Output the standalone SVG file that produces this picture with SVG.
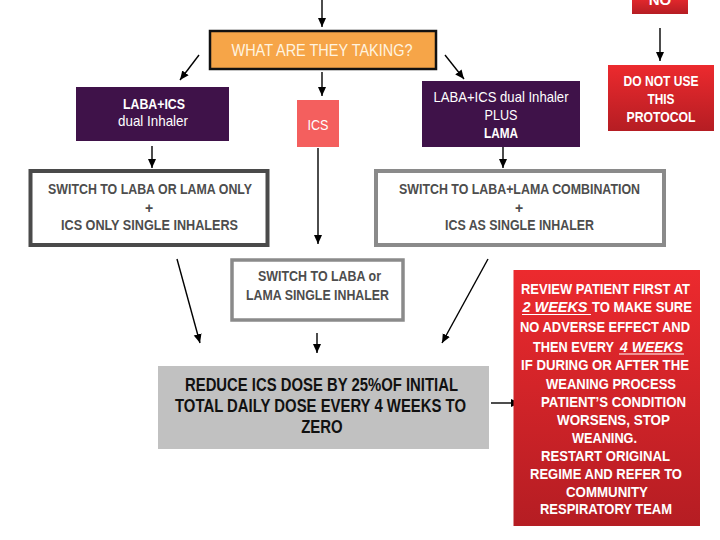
<svg xmlns="http://www.w3.org/2000/svg" width="720" height="540" viewBox="0 0 720 540">
<defs>
<linearGradient id="red" x1="0" y1="0" x2="0" y2="1">
<stop offset="0" stop-color="#EC2A2E"/>
<stop offset="1" stop-color="#B51D23"/>
</linearGradient>
<marker id="ah" markerWidth="10" markerHeight="10" refX="9" refY="5" orient="auto" markerUnits="userSpaceOnUse">
<path d="M0,1 L9,5 L0,9 Z" fill="#000"/>
</marker>
<style>
text{font-family:"Liberation Sans",Arial,sans-serif;text-anchor:middle}
.w{fill:#fff}
.b{font-weight:bold}
.sw{fill:#4d4d4d;font-weight:bold;font-size:14px}
.rd{fill:#fff;font-weight:bold;font-size:15px}
.c{stroke:#000;stroke-width:1.4;fill:none;marker-end:url(#ah)}
</style>
</defs>
<rect width="720" height="540" fill="#fff"/>

<g id="connectors">
<line class="c" x1="322" y1="0" x2="322" y2="27"/>
<line class="c" x1="199" y1="55" x2="180" y2="80"/>
<line class="c" x1="322" y1="72" x2="322" y2="96"/>
<line class="c" x1="445" y1="55" x2="464" y2="79"/>
<line class="c" x1="660" y1="28" x2="660" y2="61" stroke-width="2"/>
<line class="c" x1="152" y1="146" x2="152" y2="168"/>
<line class="c" x1="318" y1="148" x2="318" y2="244"/>
<line class="c" x1="503" y1="147" x2="503" y2="168"/>
<line class="c" x1="177" y1="259" x2="200" y2="343"/>
<line class="c" x1="488" y1="259" x2="442" y2="343"/>
<line class="c" x1="317" y1="333" x2="317" y2="353"/>
<line class="c" x1="491" y1="403" x2="520" y2="403" stroke-width="2"/>
</g>

<g id="no">
<rect x="632" y="-4" width="56" height="18" fill="url(#red)"/>
<text class="w b" x="660" y="5" font-size="15">NO</text>
</g>

<g id="what">
<rect x="210" y="31" width="226" height="38" fill="#F6A548" stroke="#111" stroke-width="2.5"/>
<text x="322" y="56" font-size="17" fill="#FFF4E0" textLength="181" lengthAdjust="spacingAndGlyphs">WHAT ARE THEY TAKING?</text>
</g>

<g id="laba-ics">
<rect x="76" y="87" width="153" height="54" fill="#3F1249"/>
<text class="w b" x="154" y="109" font-size="15" textLength="62" lengthAdjust="spacingAndGlyphs">LABA+ICS</text>
<text class="w" x="153" y="126" font-size="15" textLength="70" lengthAdjust="spacingAndGlyphs">dual Inhaler</text>
</g>

<g id="ics">
<rect x="297" y="100" width="42" height="47" fill="#F45F5E"/>
<text class="w" x="318" y="130" font-size="15" textLength="21" lengthAdjust="spacingAndGlyphs">ICS</text>
</g>

<g id="laba-ics-lama">
<rect x="422" y="81" width="158" height="66" fill="#3F1249"/>
<text class="w" x="501" y="102" font-size="15" textLength="135" lengthAdjust="spacingAndGlyphs">LABA+ICS dual Inhaler</text>
<text class="w" x="501" y="120" font-size="15" textLength="33" lengthAdjust="spacingAndGlyphs">PLUS</text>
<text class="w b" x="501" y="138" font-size="15" textLength="34" lengthAdjust="spacingAndGlyphs">LAMA</text>
</g>

<g id="do-not-use">
<rect x="608" y="65" width="106" height="66" fill="url(#red)"/>
<text class="w b" x="661" y="86" font-size="15" textLength="75" lengthAdjust="spacingAndGlyphs">DO NOT USE</text>
<text class="w b" x="661" y="104" font-size="15" textLength="27" lengthAdjust="spacingAndGlyphs">THIS</text>
<text class="w b" x="661" y="122" font-size="15" textLength="69" lengthAdjust="spacingAndGlyphs">PROTOCOL</text>
</g>

<g id="switch-left">
<rect x="30.5" y="171" width="237" height="74" fill="#fff" stroke="#4A4A4A" stroke-width="4"/>
<text class="sw" x="150" y="194" textLength="204" lengthAdjust="spacingAndGlyphs">SWITCH TO LABA OR LAMA ONLY</text>
<text class="sw" x="149" y="213">+</text>
<text class="sw" x="149.5" y="230" textLength="177" lengthAdjust="spacingAndGlyphs">ICS ONLY  SINGLE INHALERS</text>
</g>

<g id="switch-right">
<rect x="376" y="171" width="288" height="74" fill="#fff" stroke="#8A8A8A" stroke-width="4"/>
<text class="sw" x="519.5" y="194" textLength="241" lengthAdjust="spacingAndGlyphs">SWITCH TO LABA+LAMA COMBINATION</text>
<text class="sw" x="519" y="213">+</text>
<text class="sw" x="519.5" y="230" textLength="149" lengthAdjust="spacingAndGlyphs">ICS AS SINGLE INHALER</text>
</g>

<g id="switch-mid">
<rect x="232" y="260" width="171" height="60" fill="#fff" stroke="#8A8A8A" stroke-width="3.5"/>
<text class="sw" x="319.5" y="281" textLength="123" lengthAdjust="spacingAndGlyphs">SWITCH TO LABA or</text>
<text class="sw" x="317.5" y="300" textLength="143" lengthAdjust="spacingAndGlyphs">LAMA SINGLE INHALER</text>
</g>

<g id="reduce">
<rect x="158" y="366" width="331" height="83" fill="#C1C1C1"/>
<text class="b" x="321.5" y="390.5" font-size="18" fill="#111" textLength="273" lengthAdjust="spacingAndGlyphs">REDUCE ICS DOSE BY 25%OF INITIAL</text>
<text class="b" x="320.5" y="411.5" font-size="18" fill="#111" textLength="291" lengthAdjust="spacingAndGlyphs">TOTAL DAILY DOSE EVERY 4 WEEKS TO</text>
<text class="b" x="322" y="432.5" font-size="18" fill="#111" textLength="41.5" lengthAdjust="spacingAndGlyphs">ZERO</text>
</g>

<g id="review">
<rect x="513.5" y="270" width="186.5" height="256" fill="url(#red)"/>
<text class="rd" x="605.5" y="293.5" textLength="169" lengthAdjust="spacingAndGlyphs">REVIEW PATIENT FIRST AT</text>
<text class="rd" x="555" y="312" font-style="italic" textLength="65" lengthAdjust="spacingAndGlyphs">2 WEEKS</text>
<line x1="522" y1="314.5" x2="591" y2="314.5" stroke="#fff" stroke-width="1.2"/>
<text class="rd" x="642" y="312" textLength="100" lengthAdjust="spacingAndGlyphs">TO MAKE SURE</text>
<text class="rd" x="605" y="332" textLength="170" lengthAdjust="spacingAndGlyphs">NO ADVERSE EFFECT AND</text>
<text class="rd" x="573.5" y="351.5" textLength="81" lengthAdjust="spacingAndGlyphs">THEN EVERY</text>
<text class="rd" x="651.5" y="351.5" font-style="italic" textLength="63" lengthAdjust="spacingAndGlyphs">4 WEEKS</text>
<line x1="619" y1="354" x2="684" y2="354" stroke="#fff" stroke-width="1.2"/>
<text class="rd" x="605" y="369.5" textLength="168" lengthAdjust="spacingAndGlyphs">IF DURING OR AFTER THE</text>
<text class="rd" x="611" y="388.5" textLength="130" lengthAdjust="spacingAndGlyphs">WEANING PROCESS</text>
<text class="rd" x="613.5" y="407" textLength="145" lengthAdjust="spacingAndGlyphs">PATIENT’S CONDITION</text>
<text class="rd" x="613.5" y="424.5" textLength="113" lengthAdjust="spacingAndGlyphs">WORSENS, STOP</text>
<text class="rd" x="604.5" y="442.5" textLength="65" lengthAdjust="spacingAndGlyphs">WEANING.</text>
<text class="rd" x="605.5" y="460.5" textLength="129" lengthAdjust="spacingAndGlyphs">RESTART ORIGINAL</text>
<text class="rd" x="606" y="478.5" textLength="152" lengthAdjust="spacingAndGlyphs">REGIME AND REFER TO</text>
<text class="rd" x="607" y="496.5" textLength="82" lengthAdjust="spacingAndGlyphs">COMMUNITY</text>
<text class="rd" x="606" y="514" textLength="132" lengthAdjust="spacingAndGlyphs">RESPIRATORY TEAM</text>
</g>
</svg>
